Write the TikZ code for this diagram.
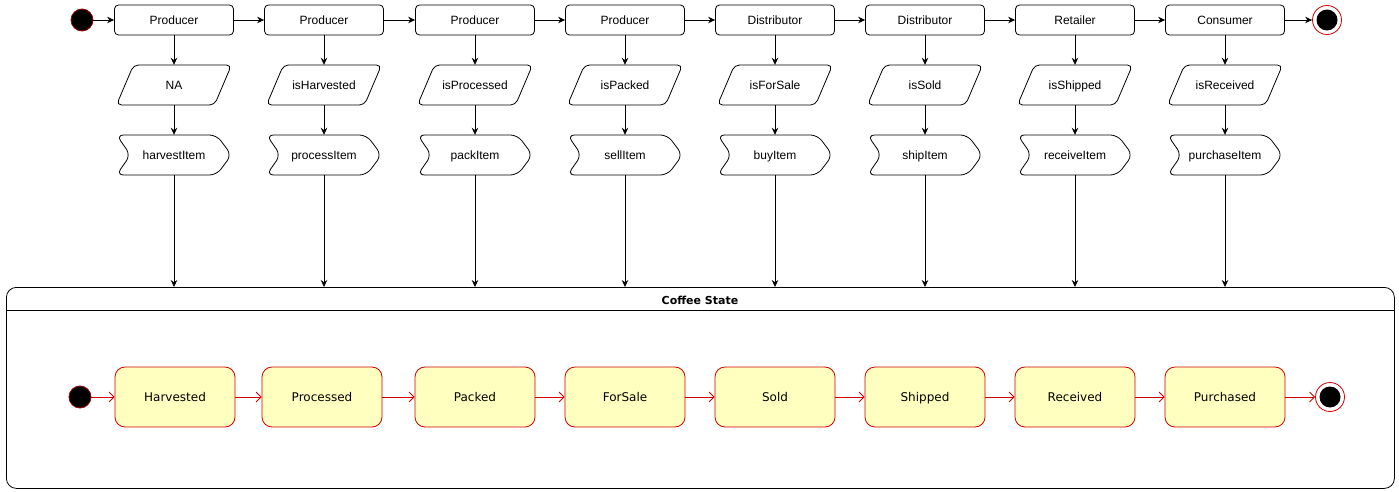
\documentclass[tikz,border=0pt]{standalone}
\usepackage{fontspec}
\setmainfont{Liberation Sans}
\newfontfamily\dejavu{DejaVu Sans}
\usetikzlibrary{arrows.meta}
\definecolor{stfill}{HTML}{FFFFC0}
\definecolor{stred}{HTML}{D40000}
\definecolor{dkred}{HTML}{990000}
\tikzset{
  role/.style={draw, rounded corners=4pt, minimum width=119pt, minimum height=30pt, inner sep=0pt, font=\fontsize{12}{14}\selectfont, text height=10.5pt, text depth=1pt, line width=0.8pt},
  txtbox/.style={minimum width=115pt, minimum height=40pt, inner sep=0pt, font=\fontsize{12}{14}\selectfont, text height=10.2pt, text depth=1pt},
  shapeline/.style={draw, line width=0.8pt, rounded corners=5pt},
  blk/.style={line width=0.8pt, -{Stealth[length=7pt,width=6.5pt]}},
  state/.style={draw=stred, fill=stfill, rounded corners=10pt, minimum width=120pt, minimum height=60pt, inner sep=0pt, line width=0.8pt, font=\dejavu\fontsize{12}{14}\selectfont, text height=10.8pt, text depth=1pt},
  redarr/.style={draw=stred, line width=0.8pt, -{Straight Barb[length=5pt,width=10pt,line width=0.8pt]}},
  initdot/.style={circle, fill=black, draw=dkred, line width=0.8pt, minimum size=22pt, inner sep=0pt},
  finring/.style={circle, fill=white, draw=stred, line width=0.8pt, minimum size=29pt, inner sep=0pt},
  findot/.style={circle, fill=black, minimum size=21pt, inner sep=0pt},
}
\newcommand\paranode[3]{%
  \node[txtbox] (#2) at (#1,85) {#3};
  \draw[shapeline] (#1,65) -- (#1+57.5,65) -- (#1+40.5,105) -- (#1-57.5,105) -- (#1-40.5,65) -- cycle;
}
\newcommand\stepnode[3]{%
  \node[txtbox] (#2) at (#1,155) {#3};
  \draw[shapeline, rounded corners=7pt] (#1,135) -- (#1+42.5,135) -- (#1+57.5,155) -- (#1+42.5,175) -- (#1-57.5,175) -- (#1-43.5,155) -- (#1-57.5,135) -- cycle;
}
\begin{document}
\begin{tikzpicture}[x=1pt,y=-1pt]
\useasboundingbox (0,0) rectangle (1399,492);
% top flow
\node[initdot] (i1) at (82,20) {};
\node[finring] (f1) at (1327,20) {};
\node[findot] at (f1) {};
\node[role] (b1) at (174,20) {Producer};
\node[role] (b2) at (324,20) {Producer};
\node[role] (b3) at (475,20) {Producer};
\node[role] (b4) at (625,20) {Producer};
\node[role] (b5) at (775,20) {Distributor};
\node[role] (b6) at (925,20) {Distributor};
\node[role] (b7) at (1075,20) {Retailer};
\node[role] (b8) at (1225,20) {Consumer};
\paranode{174}{p1}{NA}
\paranode{324}{p2}{isHarvested}
\paranode{475}{p3}{isProcessed}
\paranode{625}{p4}{isPacked}
\paranode{775}{p5}{isForSale}
\paranode{925}{p6}{isSold}
\paranode{1075}{p7}{isShipped}
\paranode{1225}{p8}{isReceived}
\stepnode{174}{s1}{harvestItem}
\stepnode{324}{s2}{processItem}
\stepnode{475}{s3}{packItem}
\stepnode{625}{s4}{sellItem}
\stepnode{775}{s5}{buyItem}
\stepnode{925}{s6}{shipItem}
\stepnode{1075}{s7}{receiveItem}
\stepnode{1225}{s8}{purchaseItem}
% container
\node[draw, line width=0.8pt, rounded corners=10pt, minimum width=1388pt, minimum height=201pt, inner sep=0pt, anchor=north west] (cs) at (6,287) {};
\draw[line width=0.8pt] (cs.north west |- 0,310) -- (cs.north east |- 0,310);
\node[font=\dejavu\bfseries\fontsize{11}{13}\selectfont, text height=11pt, text depth=0pt, inner sep=0pt] (title) at (700,298.5) {Coffee State};
% top arrows
\draw[blk] (i1) -- (b1);
\draw[blk] (b1) -- (b2);
\draw[blk] (b2) -- (b3);
\draw[blk] (b3) -- (b4);
\draw[blk] (b4) -- (b5);
\draw[blk] (b5) -- (b6);
\draw[blk] (b6) -- (b7);
\draw[blk] (b7) -- (b8);
\draw[blk] (b8) -- (f1);
\foreach \k in {1,...,8}{
  \draw[blk] (b\k) -- (p\k);
  \draw[blk] (p\k) -- (s\k);
  \draw[blk] (s\k.south) -- (s\k.south |- cs.north);
}
% states
\node[initdot] (i2) at (80,397) {};
\node[state] (h) at (175,397) {Harvested};
\node[state] (pr) at (322,397) {Processed};
\node[state] (pk) at (475,397) {Packed};
\node[state] (fs) at (625,397) {ForSale};
\node[state] (sd) at (775,397) {Sold};
\node[state] (sh) at (925,397) {Shipped};
\node[state] (rc) at (1075,397) {Received};
\node[state] (pu) at (1225,397) {Purchased};
\node[finring] (f2) at (1330,397) {};
\node[findot] at (f2) {};
\draw[redarr] (i2) -- (h);
\draw[redarr] (h) -- (pr);
\draw[redarr] (pr) -- (pk);
\draw[redarr] (pk) -- (fs);
\draw[redarr] (fs) -- (sd);
\draw[redarr] (sd) -- (sh);
\draw[redarr] (sh) -- (rc);
\draw[redarr] (rc) -- (pu);
\draw[redarr] (pu) -- (f2);
\end{tikzpicture}
\end{document}
